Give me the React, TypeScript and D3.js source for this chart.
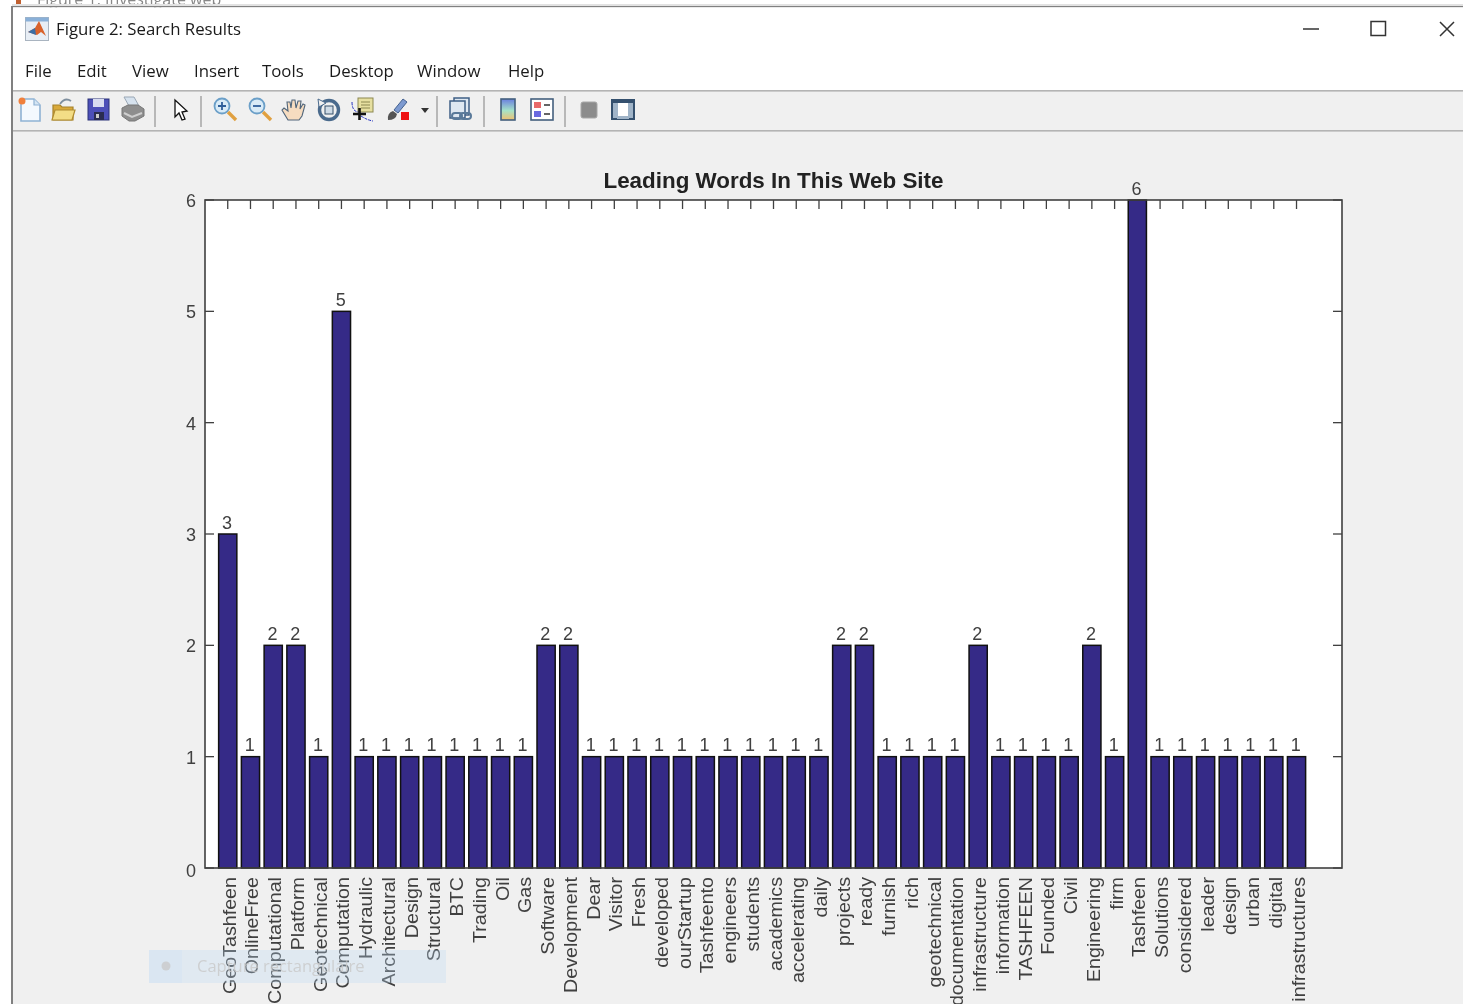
import * as d3 from "d3";

const words = [
  "GeoTashfeen", "OnlineFree", "Computational", "Platform", "Geotechnical", "Computation",
  "Hydraulic", "Architectural", "Design", "Structural", "BTC", "Trading", "Oil", "Gas",
  "Software", "Development", "Dear", "Visitor", "Fresh", "developed", "ourStartup",
  "Tashfeento", "engineers", "students", "academics", "accelerating", "daily", "projects",
  "ready", "furnish", "rich", "geotechnical", "documentation", "infrastructure", "information",
  "TASHFEEN", "Founded", "Civil", "Engineering", "firm", "Tashfeen", "Solutions", "considered",
  "leader", "design", "urban", "digital", "infrastructures",
];
const counts = [
  3, 1, 2, 2, 1, 5, 1, 1, 1, 1, 1, 1, 1, 1, 2, 2, 1, 1, 1, 1, 1, 1, 1, 1, 1, 1, 1, 2, 2, 1, 1, 1,
  1, 2, 1, 1, 1, 1, 2, 1, 6, 1, 1, 1, 1, 1, 1, 1,
];
const yTicks = [0, 1, 2, 3, 4, 5, 6];
const menuItems = ["File", "Edit", "View", "Insert", "Tools", "Desktop", "Window", "Help"];
const menuX = [25, 77, 132, 194, 262, 329, 417, 508];
const separators = [155, 201, 437, 484, 565];

const W = 1463;
const H = 1004;
const SANS = "'Liberation Sans', Arial, sans-serif";
const UI = "'Open Sans', 'Noto Sans', sans-serif";
const TEXT = "#404040";

const x = d3.scaleLinear().domain([0, 50]).range([205, 1342]);
const y = d3.scaleLinear().domain([0, 6]).range([868, 200]);
const barW = (x(1) - x(0)) * 0.8;

function Toolbar() {
  return (
    <g>
      {/* new */}
      <path d="M21 99h13l6 6v16H21z" fill="#f4f9fe" stroke="#8fb2d4" strokeWidth="1.6" />
      <path d="M34 99v6h6" fill="#d5e5f3" stroke="#8fb2d4" strokeWidth="1.2" />
      <circle cx="22" cy="101" r="3.5" fill="#f0803c" />
      {/* open */}
      <path d="M53 105h7l2 2h11v13H53z" fill="#d9a93a" stroke="#a5812a" strokeWidth="1.2" />
      <path d="M52 120l3-10h20l-3 10z" fill="#f3dd86" stroke="#b08c30" strokeWidth="1.2" />
      <path d="M60 104q5-7 11-3" fill="none" stroke="#7f8f9f" strokeWidth="1.8" />
      {/* save */}
      <rect x="88" y="99" width="21" height="21" fill="#4c4fb8" stroke="#2b3278" />
      <rect x="93" y="99" width="11" height="8" fill="#d8dcf0" />
      <rect x="94" y="112" width="10" height="8" fill="#2a2c50" />
      <rect x="96" y="114" width="3" height="4" fill="#ccc" />
      {/* print */}
      <path d="M124 97h10l5 9h-10z" fill="#d6e2ee" stroke="#9aa7b5" />
      <path d="M122 108l6-3h10l6 4v7l-9 5h-6l-7-5z" fill="#8e8e8e" stroke="#777" />
      <path d="M124 113l8 4 10-4" fill="none" stroke="#cfcfcf" strokeWidth="2" />
      {/* pointer */}
      <path d="M175 100l0 17 4-4 3 7 3-1-3-7 5-1z" fill="#fff" stroke="#111" strokeWidth="1.3" />
      {/* zoom in / out */}
      <circle cx="222" cy="106" r="7.5" fill="#d9ebf7" stroke="#6b9fc8" strokeWidth="1.8" />
      <path d="M218 106h8M222 102v8" stroke="#2f5f9a" strokeWidth="1.8" />
      <path d="M228 112l8 8" stroke="#e0a040" strokeWidth="3.4" />
      <circle cx="257" cy="106" r="7.5" fill="#d9ebf7" stroke="#6b9fc8" strokeWidth="1.8" />
      <path d="M253 106h8" stroke="#2f5f9a" strokeWidth="1.8" />
      <path d="M263 112l8 8" stroke="#e0a040" strokeWidth="3.4" />
      {/* hand */}
      <path
        d="M288 120l-6-10 2-2 4 3-1-9h3l1 6 1-8h3l1 8 2-7h3l-1 8 3-5 2 1-3 11-3 4z"
        fill="#f6dcc0"
        stroke="#50657a"
        strokeWidth="1.1"
      />
      {/* rotate */}
      <circle cx="329" cy="110" r="9.5" fill="none" stroke="#4a6a8c" strokeWidth="3.4" />
      <path d="M318 99l1 8 7-4z" fill="#f0f0f0" stroke="#4a6a8c" />
      <rect x="325" y="106" width="8" height="8" fill="#cfdbe6" stroke="#37506a" />
      {/* data cursor */}
      <rect x="358" y="98" width="15" height="14" fill="#e6dfa0" stroke="#8c8850" />
      <path d="M361 102h9M361 105h9M361 108h9" stroke="#8c8850" />
      <path d="M352 102q0 9 6 10M361 116q6 4 12 5" fill="none" stroke="#2230c0" strokeDasharray="3 1" />
      <path d="M353 114h13M359.5 108v12" stroke="#111" strokeWidth="2.6" />
      {/* brush */}
      <path d="M388 120q-1-7 5-9l4 3q-1 6-9 6z" fill="#555" />
      <path d="M394 110l9-11 4 3-9 11z" fill="#7d9ad0" stroke="#44618f" />
      <rect x="401" y="112" width="8" height="8" fill="#ee1111" />
      <path d="M421 108h8l-4 5z" fill="#333" />
      {/* link */}
      <rect x="454" y="98" width="15" height="17" fill="#dfe8f1" stroke="#3f5f85" strokeWidth="1.5" />
      <rect x="450" y="101" width="15" height="17" fill="#dfe8f1" stroke="#3f5f85" strokeWidth="1.5" />
      <rect x="452" y="113" width="10" height="6" rx="3" fill="none" stroke="#5a7a9a" strokeWidth="2" />
      <rect x="460" y="113" width="11" height="6" rx="3" fill="none" stroke="#5a7a9a" strokeWidth="2" />
      {/* colorbar */}
      <defs>
        <linearGradient id="cb" x1="0" y1="0" x2="0" y2="1">
          <stop offset="0" stopColor="#6a7fe0" />
          <stop offset="0.55" stopColor="#a5e3c8" />
          <stop offset="1" stopColor="#f0c070" />
        </linearGradient>
      </defs>
      <rect x="501" y="99" width="14" height="21" fill="url(#cb)" stroke="#44607e" strokeWidth="1.6" />
      {/* legend */}
      <rect x="531" y="99" width="22" height="21" fill="#fff" stroke="#44607e" strokeWidth="1.6" />
      <rect x="534" y="102" width="7" height="6" fill="#e86a6a" />
      <rect x="534" y="111" width="7" height="6" fill="#6a6ae0" />
      <path d="M544 105h6M544 114h6" stroke="#333" strokeWidth="1.6" />
      {/* hide / show plot tools */}
      <rect x="581" y="102" width="16" height="16" rx="2" fill="#8c8c8c" stroke="#a8a8a8" />
      <rect x="612" y="100" width="22" height="19" fill="#fff" stroke="#34506e" strokeWidth="2" />
      <rect x="612" y="100" width="22" height="3" fill="#34506e" />
      <rect x="617" y="116" width="12" height="3" fill="#a0b4c8" />
      <rect x="613" y="103" width="5" height="15" fill="#a0b4c8" />
      <rect x="628" y="103" width="5" height="15" fill="#a0b4c8" />
    </g>
  );
}

function WindowFrame() {
  return (
    <g>
      <rect width={W} height={H} fill="#ffffff" />
      <text x="37" y="5" fontFamily={UI} fontSize="16" fill="#888">
        Figure 1: Investigate web
      </text>
      <rect x="16" y="0" width="5" height="4" fill="#c06030" />
      <rect x="12" y="4" width={W - 12} height="3" fill="#e2e2e2" />
      <rect x="12" y="6" width={W - 12} height="1.4" fill="#808080" />
      <rect x="13" y="7.4" width={W - 13} height="83" fill="#ffffff" />
      <rect x="13" y="90" width={W - 13} height={H - 90} fill="#f0f0f0" />
      <rect x="13" y="90" width={W - 13} height="1.6" fill="#b4b4b4" />
      <rect x="13" y="130" width={W - 13} height="1.6" fill="#b4b4b4" />
      <rect x="11" y="6" width="2" height={H - 6} fill="#808080" />

      {/* matlab icon */}
      <rect x="25.5" y="17.5" width="23" height="23" fill="#e8eef5" stroke="#a9b4c0" />
      <rect x="25.5" y="17.5" width="23" height="4" fill="#8ab0d8" />
      <path d="M28 32l7-4 4-7 7 15-5-4-4 3z" fill="#d9622b" />
      <path d="M28 32l7-4 1 7z" fill="#3b6ea5" />

      <text x="56" y="35" fontFamily={UI} fontSize="16.8" fill="#1a1a1a">
        Figure 2: Search Results
      </text>
      <path d="M1303 29h16" stroke="#333" strokeWidth="1.5" />
      <rect x="1371" y="21.5" width="14.5" height="14" fill="none" stroke="#333" strokeWidth="1.5" />
      <path d="M1440 22l14 14M1454 22l-14 14" stroke="#333" strokeWidth="1.5" />

      {menuItems.map((m, i) => (
        <text key={m} x={menuX[i]} y="77" fontFamily={UI} fontSize="16.8" fill="#1a1a1a">
          {m}
        </text>
      ))}
      {separators.map((s) => (
        <line key={s} x1={s} x2={s} y1="96" y2="127" stroke="#a0a0a0" strokeWidth="1.4" />
      ))}
      <Toolbar />
    </g>
  );
}

export default function App() {
  return (
    <svg
      width={W}
      height={H}
      viewBox={`0 0 ${W} ${H}`}
      style={{ position: "absolute", left: 0, top: 0, display: "block", filter: "blur(0.45px)" }}
    >
      <WindowFrame />

      <rect
        x={x.range()[0]}
        y={y.range()[1]}
        width={x.range()[1] - x.range()[0]}
        height={y.range()[0] - y.range()[1]}
        fill="#fff"
      />

      {/* top ticks, one per bar */}
      {words.map((w, i) => (
        <line key={w} x1={x(i + 1)} x2={x(i + 1)} y1={y(6)} y2={y(6) + 9} stroke="#404040" strokeWidth="1.3" />
      ))}

      {/* bars */}
      {counts.map((c, i) => (
        <rect
          key={words[i]}
          x={x(i + 1) - barW / 2}
          y={y(c)}
          width={barW}
          height={y(0) - y(c)}
          fill="#352a87"
          stroke="#111"
          strokeWidth="1.5"
        />
      ))}

      {/* y ticks both sides */}
      {yTicks.map((t) => (
        <g key={t}>
          <line x1={x(0)} x2={x(0) + 9} y1={y(t)} y2={y(t)} stroke="#404040" strokeWidth="1.3" />
          <line x1={x(50)} x2={x(50) - 9} y1={y(t)} y2={y(t)} stroke="#404040" strokeWidth="1.3" />
          <text
            x={x(0) - 9}
            y={y(t) + (t === 0 ? 9 : 7)}
            textAnchor="end"
            fontFamily={SANS}
            fontSize="18"
            fill={TEXT}
          >
            {t}
          </text>
        </g>
      ))}

      <rect
        x={x.range()[0]}
        y={y.range()[1]}
        width={x.range()[1] - x.range()[0]}
        height={y.range()[0] - y.range()[1]}
        fill="none"
        stroke="#404040"
        strokeWidth="1.6"
      />

      {/* value labels */}
      {counts.map((c, i) => (
        <text
          key={words[i]}
          x={x(i + 1) - 0.8}
          y={y(c) - 5.5}
          textAnchor="middle"
          fontFamily={SANS}
          fontSize="18"
          fill={TEXT}
        >
          {c}
        </text>
      ))}

      {/* word labels, a bit stretched lengthwise like the screenshot */}
      {words.map((w, i) => (
        <text
          key={w}
          transform={`translate(${x(i + 1) + 8},877) rotate(-90) scale(1.07,1)`}
          textAnchor="end"
          fontFamily={SANS}
          fontSize="18.4"
          fill={TEXT}
        >
          {w}
        </text>
      ))}

      <text
        x={773.5}
        y={188}
        textAnchor="middle"
        fontFamily={SANS}
        fontSize="22.4"
        fontWeight="bold"
        fill="#222"
      >
        Leading Words In This Web Site
      </text>

      {/* faded screen-capture hint left over in the screenshot */}
      <rect x="149" y="950" width="297" height="33" fill="#bcd9f5" opacity="0.3" />
      <rect x="149" y="950" width="33" height="33" fill="#bcd9f5" opacity="0.15" />
      <circle cx="166" cy="966" r="4.5" fill="#c9c9c9" opacity="0.8" />
      <text x="197" y="972" fontFamily={UI} fontSize="16.5" fill="#c9c9c9" opacity="0.8">
        Capture rectangulaire
      </text>
    </svg>
  );
}
